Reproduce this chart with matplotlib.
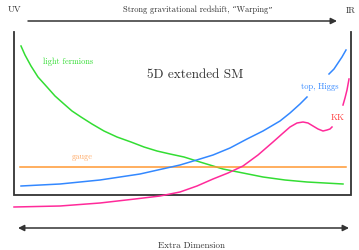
import matplotlib
matplotlib.use("Agg")
import matplotlib.pyplot as plt
import numpy as np

# schematic curves in pixel coordinates (x right, y down)
green_x = [21, 25, 31, 38, 47, 55, 64, 72, 81, 92, 104, 117, 131, 144, 157, 170, 184,
           200, 223, 243, 263, 285, 307, 325, 343]
green_y = [47, 56, 67, 78, 88, 97, 105, 112, 118, 125, 132, 138, 143, 148, 152, 155, 158,
           163, 170, 174, 178, 181, 183, 184, 185]

gauge_x = [20, 346]
gauge_y = [168, 168]

blue_x = [21, 60, 100, 140, 180, 200, 213, 230, 247, 263, 280, 290, 300, 307]
blue_y = [187, 185, 181, 175, 166, 160, 156, 149, 140, 132, 122, 114, 105, 98]
blue2_x = [329, 334, 338, 342, 346]
blue2_y = [75, 70, 64, 58, 51]

kk_x = [14, 60, 100, 135, 160, 180, 197, 213, 228, 243, 258, 273, 282, 290, 297, 303,
        308, 313, 318, 323, 327, 330, 332]
kk_y = [208, 207, 204, 200, 197, 193, 187, 180, 174, 167, 156, 143, 135, 128, 124, 123,
        124, 127, 130, 132, 131, 130, 128]
kk2_x = [343, 345, 347, 349]
kk2_y = [106, 99, 91, 80]

box_x = [14, 14, 351, 351]
box_y = [33, 196, 196, 33]

plt.rcParams['font.family'] = ['cmr10', 'DejaVu Serif']

fig = plt.figure(figsize=(3.59, 2.51), dpi=100)
ax = fig.add_axes([0, 0, 1, 1])
ax.set_xlim(0, 359)
ax.set_ylim(251, 0)
ax.axis('off')

ax.plot(box_x, box_y, color='#333333', lw=1.3, solid_joinstyle='miter')

ax.plot(green_x, green_y, color='#33dd33', lw=1.1, solid_joinstyle='round')
ax.plot(gauge_x, gauge_y, color='#ff9933', lw=1.1)
ax.plot(blue_x, blue_y, color='#3388ff', lw=1.1, solid_joinstyle='round')
ax.plot(blue2_x, blue2_y, color='#3388ff', lw=1.1)
ax.plot(kk_x, kk_y, color='#ff2a9a', lw=1.1, solid_joinstyle='round')
ax.plot(kk2_x, kk2_y, color='#ff2a9a', lw=1.1)

# arrows
ax.annotate('', xy=(337, 22), xytext=(28, 22),
            arrowprops=dict(arrowstyle='-|>', color='#333333', lw=1.1,
                            mutation_scale=9, shrinkA=0, shrinkB=0))
ax.annotate('', xy=(349, 229), xytext=(18, 229),
            arrowprops=dict(arrowstyle='<|-|>', color='#333333', lw=1.1,
                            mutation_scale=9, shrinkA=0, shrinkB=0))

ax.text(14, 10, 'UV', fontsize=6.5, color='#333333', ha='center', va='center')
ax.text(351, 11, 'IR', fontsize=6.5, color='#333333', ha='center', va='center')
ax.text(198, 10, 'Strong gravitational redshift, \u201cWarping\u201d', fontsize=6,
        color='#333333', ha='center', va='center')
ax.text(191, 246, 'Extra Dimension', fontsize=6.5, color='#333333',
        ha='center', va='center')

ax.text(195, 75, '5D extended SM', fontsize=9.5, color='#333333',
        ha='center', va='center')
ax.text(68, 62, 'light fermions', fontsize=6, color='#33dd33', ha='center', va='center')
ax.text(82, 157, 'gauge', fontsize=6, color='#ffaa66', ha='center', va='center')
ax.text(320, 87, 'top, Higgs', fontsize=6, color='#3388ff', ha='center', va='center')
ax.text(338, 118, 'KK', fontsize=6.5, color='#ff4444', ha='center', va='center')

fig.savefig('out.png', dpi=100)
